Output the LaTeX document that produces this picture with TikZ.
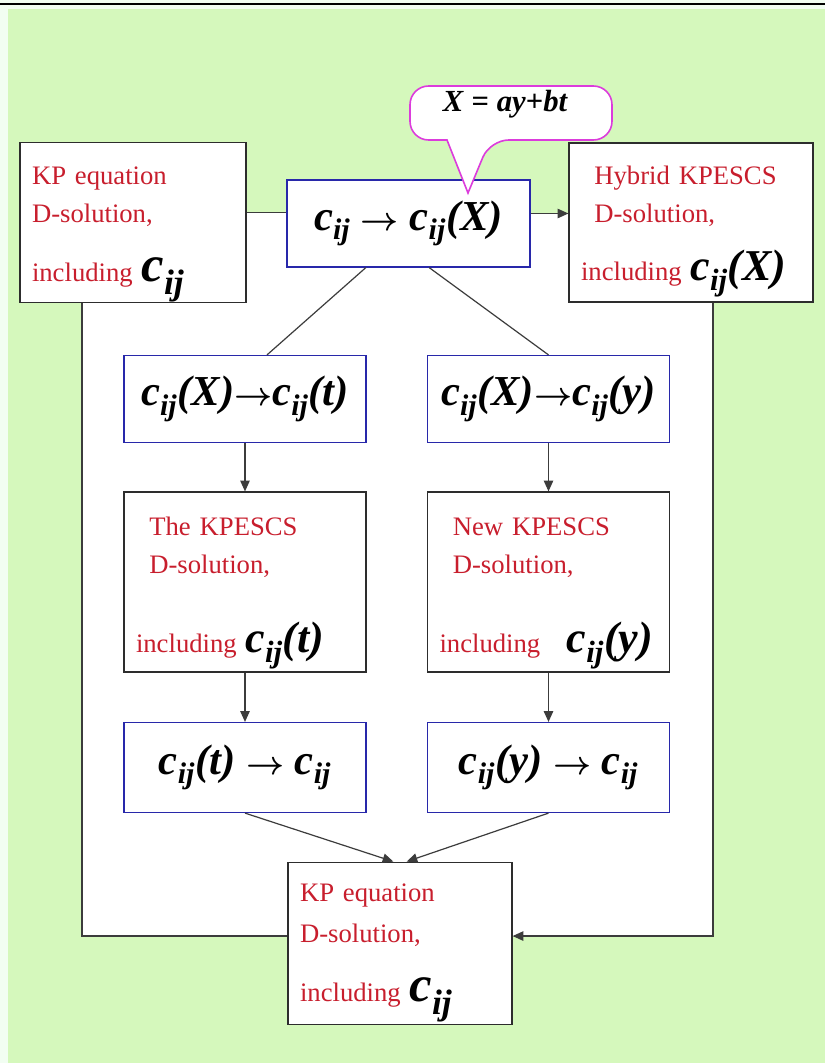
\documentclass[tikz,border=0pt]{standalone}
\usepackage{fontspec}
\setmainfont{Liberation Serif}
\usetikzlibrary{arrows.meta}

\definecolor{bggreen}{RGB}{213,248,188}
\definecolor{bgpale}{RGB}{242,254,242}
\definecolor{boxblue}{RGB}{40,40,170}
\definecolor{boxgray}{RGB}{45,45,45}
\definecolor{linegray}{RGB}{60,60,60}
\definecolor{txtred}{RGB}{200,30,45}
\definecolor{callpink}{RGB}{220,60,220}

\newcommand{\bi}[1]{{\bfseries\itshape #1}}
\newcommand{\cij}{\bi{c}\textsubscript{\bi{ij}}}
\newcommand{\goesto}{{\boldmath$\rightarrow$}}
\newcommand{\bigform}[1]{{\color{black}\fontsize{33}{33}\selectfont #1}}
\newcommand{\topgap}[1]{\rule{0pt}{#1}}

\begin{document}
\begin{tikzpicture}[x=0.75pt, y=-0.75pt,
    textbox/.style={draw=boxgray, fill=white, line width=0.9pt, align=left,
      inner xsep=9pt, inner ysep=0pt, text=txtred, font=\fontsize{20}{29}\selectfont},
    fmbox/.style={draw=boxblue, fill=white, line width=0.9pt, align=center,
      minimum width=181.5pt, minimum height=65.25pt, font=\fontsize{32}{36}\selectfont},
    conn/.style={draw=linegray, line width=0.9pt},
    flow/.style={conn, -{Triangle[length=8pt,width=7pt]}}]
  \useasboundingbox (0,0) rectangle (825,1063);

  % background
  \fill[bgpale] (0,0) rectangle (825,1063);
  \fill[bggreen] (8,9) rectangle (825,1063);
  \draw[black, line width=1.5pt] (0,4) -- (825,4);
  \fill[white] (82,213) rectangle (713,936);

  % top row
  \node[textbox, text width=151.5pt, minimum height=119.25pt] (kpin) at (133,222.5)
    {\topgap{31pt}KP equation\\D-solution,\\[15pt]including \bigform{\fontsize{38}{38}\selectfont\cij}};
  \node[fmbox, minimum width=182.25pt] (mid) at (408.5,223.5)
    {\cij\ \goesto\ \cij\bi{(X)}};
  \node[textbox, text width=165pt, minimum height=119.25pt] (hyb) at (691,222.5)
    {\topgap{27pt}\hspace*{10pt}Hybrid KPESCS\\\hspace*{10pt}D-solution,\\[14pt]including \bigform{\cij\bi{(X)}}};

  % two branches
  \node[fmbox] (tx) at (245,399) {\cij\bi{(X)}\goesto\cij\bi{(t)}};
  \node[fmbox] (ty) at (548.5,399) {\cij\bi{(X)}\goesto\cij\bi{(y)}};

  \node[textbox, text width=163.5pt, minimum height=135pt] (solt) at (245,582)
    {\topgap{30pt}\hspace*{10pt}The KPESCS\\\hspace*{10pt}D-solution,\\[30pt]including \bigform{\cij\bi{(t)}}};
  \node[textbox, text width=163.5pt, minimum height=135pt] (soly) at (548.5,582)
    {\topgap{30pt}\hspace*{10pt}New KPESCS\\\hspace*{10pt}D-solution,\\[30pt]including\quad\bigform{\cij\bi{(y)}}};

  \node[fmbox, minimum height=67.5pt] (backt) at (245,767.5) {\cij\bi{(t)}\ \goesto\ \cij};
  \node[fmbox, minimum height=67.5pt] (backy) at (548.5,767.5) {\cij\bi{(y)}\ \goesto\ \cij};

  % result
  \node[textbox, text width=150pt, minimum height=122pt] (final) at (400,943.5)
    {\topgap{27pt}KP equation\\[2pt]D-solution,\\[15pt]including \bigform{\fontsize{38}{38}\selectfont\cij}};

  % connectors
  \draw[conn] ([yshift=7.5pt]kpin.east) -- ([yshift=7.5pt]kpin.east -| mid.west);
  \draw[flow] ([yshift=7.5pt]mid.east) -- ([yshift=7.5pt]mid.east -| hyb.west);
  \draw[conn] ([xshift=-32pt]mid.south) -- ([xshift=16.5pt]tx.north);
  \draw[conn] ([xshift=15.5pt]mid.south) -- (ty.north);
  \draw[flow] (tx) -- (solt);
  \draw[flow] (ty) -- (soly);
  \draw[flow] (solt) -- (backt);
  \draw[flow] (soly) -- (backy);
  \draw[flow] (backt.south) -- ([xshift=-5pt]final.north);
  \draw[flow] (backy.south) -- ([xshift=5pt]final.north);
  \draw[conn] ([xshift=-38.25pt]kpin.south) |- ([yshift=5.6pt]final.west);
  \draw[flow] ([xshift=16.5pt]hyb.south) |- ([yshift=5.6pt]final.east);

  % callout
  \draw[callpink, fill=white, line width=1.2pt, rounded corners=14pt]
    (447,140) -- (410,140) -- (410,86) -- (612,86) -- (612,140) -- (490,140)
    [sharp corners] -- (468,193) -- cycle;
  \node[font=\fontsize{23}{25}\selectfont] (eqn) at (505,104)
    {\bi{X} \textbf{=} \bi{ay}\textbf{+}\bi{bt}};
\end{tikzpicture}
\end{document}
